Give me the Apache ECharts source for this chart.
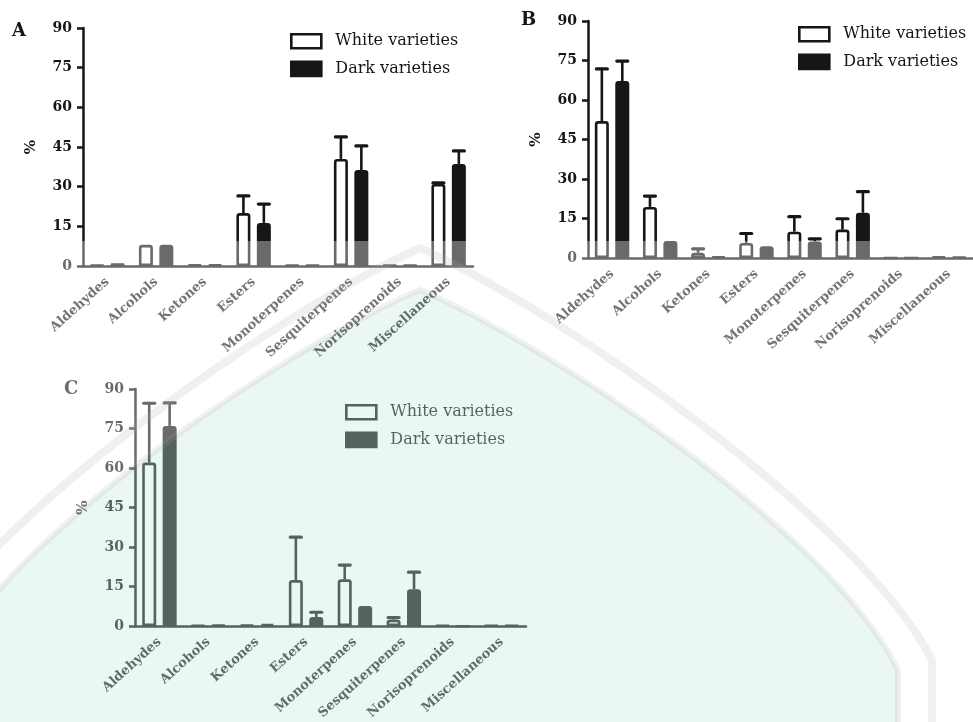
<!DOCTYPE html>
<html>
<head>
<meta charset="utf-8">
<script src="https://cdn.jsdelivr.net/npm/echarts@6/dist/echarts.min.js"></script>
<style>html,body{margin:0;padding:0;background:#fff}#chart{width:973px;height:722px}</style>
</head>
<body>
<div id="chart"></div>
<script>
// ---------------- data ----------------
const categories = ['Aldehydes','Alcohols','Ketones','Esters','Monoterpenes','Sesquiterpenes','Norisoprenoids','Miscellaneous'];
const yTicks = [0, 15, 30, 45, 60, 75, 90];
const seriesNames = ['White varieties', 'Dark varieties'];
const panelLabels = ['A', 'B', 'C'];

// Panel A
const whiteA    = [0.3, 8.0, 0.5, 20.0, 0.3, 40.5, 0.3, 31.0];
const whiteAErr = [0,   0,   0,   6.5,  0,   8.3,  0,   0.4];
const darkA     = [1.0, 8.0, 0.5, 16.3, 0.3, 36.3, 0.3, 38.6];
const darkAErr  = [0,   0,   0,   7.1,  0,   9.1,  0,   4.9];

// Panel B
const whiteB    = [52.0, 19.4, 2.0, 5.7, 10.0, 10.8, 0, 0.5];
const whiteBErr = [19.8, 4.1,  1.5, 3.6, 5.7,  4.1,  0, 0];
const darkB     = [67.2, 6.5,  0.5, 4.5, 6.3,  17.2, 0, 0.3];
const darkBErr  = [7.6,  0,    0,   0,   1.0,  8.0,  0, 0];

// Panel C
const whiteC    = [62.1, 0.3, 0.5, 17.5, 17.8, 2.5, 0.3, 0.3];
const whiteCErr = [22.5, 0,   0,   16.3, 5.4,  0.8, 0,   0];
const darkC     = [76.0, 0.5, 0.8, 3.5,  7.7,  14.0, 0,  0.3];
const darkCErr  = [8.7,  0,   0,   1.8,  0,    6.5,  0,  0];

// ---------------- style ----------------
const INK = '#161616';
const FONT = 'DejaVu Serif';
const BAR_W = 14;
const GAP_RATIO = 0.46;
const CAP = 11;

const panels = [
  {white: whiteA, whiteErr: whiteAErr, dark: darkA, darkErr: darkAErr,
   grid: {left: 83, top: 28, width: 390, height: 238},
   legend: {left: 290, top: 33}, title: {left: 12, top: 22}},
  {white: whiteB, whiteErr: whiteBErr, dark: darkB, darkErr: darkBErr,
   grid: {left: 588, top: 21, width: 391, height: 237},
   legend: {left: 798, top: 26}, title: {left: 521, top: 11}},
  {white: whiteC, whiteErr: whiteCErr, dark: darkC, darkErr: darkCErr,
   grid: {left: 135, top: 389, width: 391, height: 238},
   legend: {left: 345, top: 404}, title: {left: 64, top: 380}}
];

function errSeries(idx, means, errs, side) {
  return {
    type: 'custom', xAxisIndex: idx, yAxisIndex: idx, z: 3, silent: true,
    data: means.map((m, i) => [i, m, errs[i]]),
    encode: {x: 0, y: 1},
    renderItem: function (params, api) {
      const sd = api.value(2);
      if (!sd) return {type: 'group', children: []};
      const cat = api.value(0), m = api.value(1);
      const base = api.coord([cat, m]);
      const top = api.coord([cat, m + sd]);
      const x = base[0] + side * BAR_W * (1 + GAP_RATIO) / 2;
      return {
        type: 'group',
        children: [
          {type: 'line', shape: {x1: x, y1: base[1], x2: x, y2: top[1]}, style: {stroke: INK, lineWidth: 2.6}},
          {type: 'line', shape: {x1: x - CAP / 2, y1: top[1], x2: x + CAP / 2, y2: top[1]}, style: {stroke: INK, lineWidth: 3.2, lineCap: 'round'}}
        ]
      };
    }
  };
}

const grids = [], xAxes = [], yAxes = [], series = [], legends = [], titles = [];
panels.forEach((p, idx) => {
  grids.push(p.grid);
  xAxes.push({
    type: 'category', gridIndex: idx, data: categories,
    axisLine: {lineStyle: {color: INK, width: 2.5}},
    axisTick: {alignWithLabel: true, length: 6, lineStyle: {color: INK, width: 2.5}},
    axisLabel: {interval: 0, rotate: 42, margin: 14, color: '#262626', fontFamily: FONT, fontWeight: 'bold', fontSize: 13}
  });
  yAxes.push({
    type: 'value', gridIndex: idx, min: yTicks[0], max: yTicks[yTicks.length - 1], interval: yTicks[1] - yTicks[0],
    name: '%', nameLocation: 'middle', nameRotate: 90, nameGap: 44,
    nameTextStyle: {color: INK, fontFamily: FONT, fontSize: 15, fontWeight: 'bold'},
    axisLine: {show: true, lineStyle: {color: INK, width: 2.5}},
    axisTick: {show: true, length: 6, lineStyle: {color: INK, width: 2.5}},
    splitLine: {show: false},
    axisLabel: {margin: 11, color: INK, fontFamily: FONT, fontWeight: 'bold', fontSize: 14}
  });
  series.push({
    name: seriesNames[0], type: 'bar', xAxisIndex: idx, yAxisIndex: idx, data: p.white,
    barWidth: BAR_W, barGap: (GAP_RATIO * 100) + '%',
    itemStyle: {color: '#ffffff', borderColor: INK, borderWidth: 2.6, borderRadius: [2, 2, 0, 0]}
  });
  series.push({
    name: seriesNames[1], type: 'bar', xAxisIndex: idx, yAxisIndex: idx, data: p.dark,
    barWidth: BAR_W,
    itemStyle: {color: INK, borderColor: INK, borderWidth: 2.6, borderRadius: [2, 2, 0, 0]}
  });
  series.push(errSeries(idx, p.white, p.whiteErr, -1));
  series.push(errSeries(idx, p.dark, p.darkErr, 1));
  legends.push({
    orient: 'vertical', left: p.legend.left, top: p.legend.top, padding: 0,
    itemWidth: 30, itemHeight: 14, itemGap: 11, selectedMode: false,
    textStyle: {color: INK, fontFamily: FONT, fontSize: 16, padding: [0, 0, 0, 9]},
    data: [
      {name: seriesNames[0], icon: 'rect', itemStyle: {color: '#ffffff', borderColor: INK, borderWidth: 2.6}},
      {name: seriesNames[1], icon: 'rect', itemStyle: {color: INK, borderColor: INK, borderWidth: 2.6}}
    ]
  });
  titles.push({
    text: panelLabels[idx], left: p.title.left, top: p.title.top, padding: 0,
    textStyle: {color: INK, fontFamily: FONT, fontWeight: 'bold', fontSize: 18}
  });
});

// ---------------- watermark overlay (semi-transparent veil of the scanned page) ----------------
const holePath = 'M 420 290 C 300 340, 10 530, -58 670 L -58 740 L 898 740 L 898 670 C 830 530, 540 340, 420 290 Z';
const whiteVeil = 'M -100 241 L 973 241 L 973 750 L -100 750 Z ' + holePath;
const outerLine = 'M -92 740 L -92 660 C -20 520, 280 310, 420 248 C 560 310, 860 520, 932 660 L 932 740';
const innerLine = 'M -58 740 L -58 670 C 10 530, 300 340, 420 290 C 540 340, 830 530, 898 670 L 898 740';

series.push({
  type: 'custom', coordinateSystem: 'none', silent: true, z: 100, data: [0],
  renderItem: function () {
    return {
      type: 'group',
      children: [
        {type: 'path', shape: {pathData: whiteVeil}, style: {fill: 'rgba(255,255,255,0.36)'}},
        {type: 'path', shape: {pathData: holePath}, style: {fill: 'rgba(200,232,215,0.36)'}},
        {type: 'path', shape: {pathData: outerLine}, style: {fill: null, stroke: 'rgba(170,170,170,0.18)', lineWidth: 8}},
        {type: 'path', shape: {pathData: innerLine}, style: {fill: null, stroke: 'rgba(170,170,170,0.16)', lineWidth: 6}}
      ]
    };
  }
});

const chart = echarts.init(document.getElementById('chart'), null, {renderer: 'canvas'});
chart.setOption({
  animation: false,
  backgroundColor: '#ffffff',
  title: titles,
  legend: legends,
  grid: grids,
  xAxis: xAxes,
  yAxis: yAxes,
  series: series
});
</script>
</body>
</html>
